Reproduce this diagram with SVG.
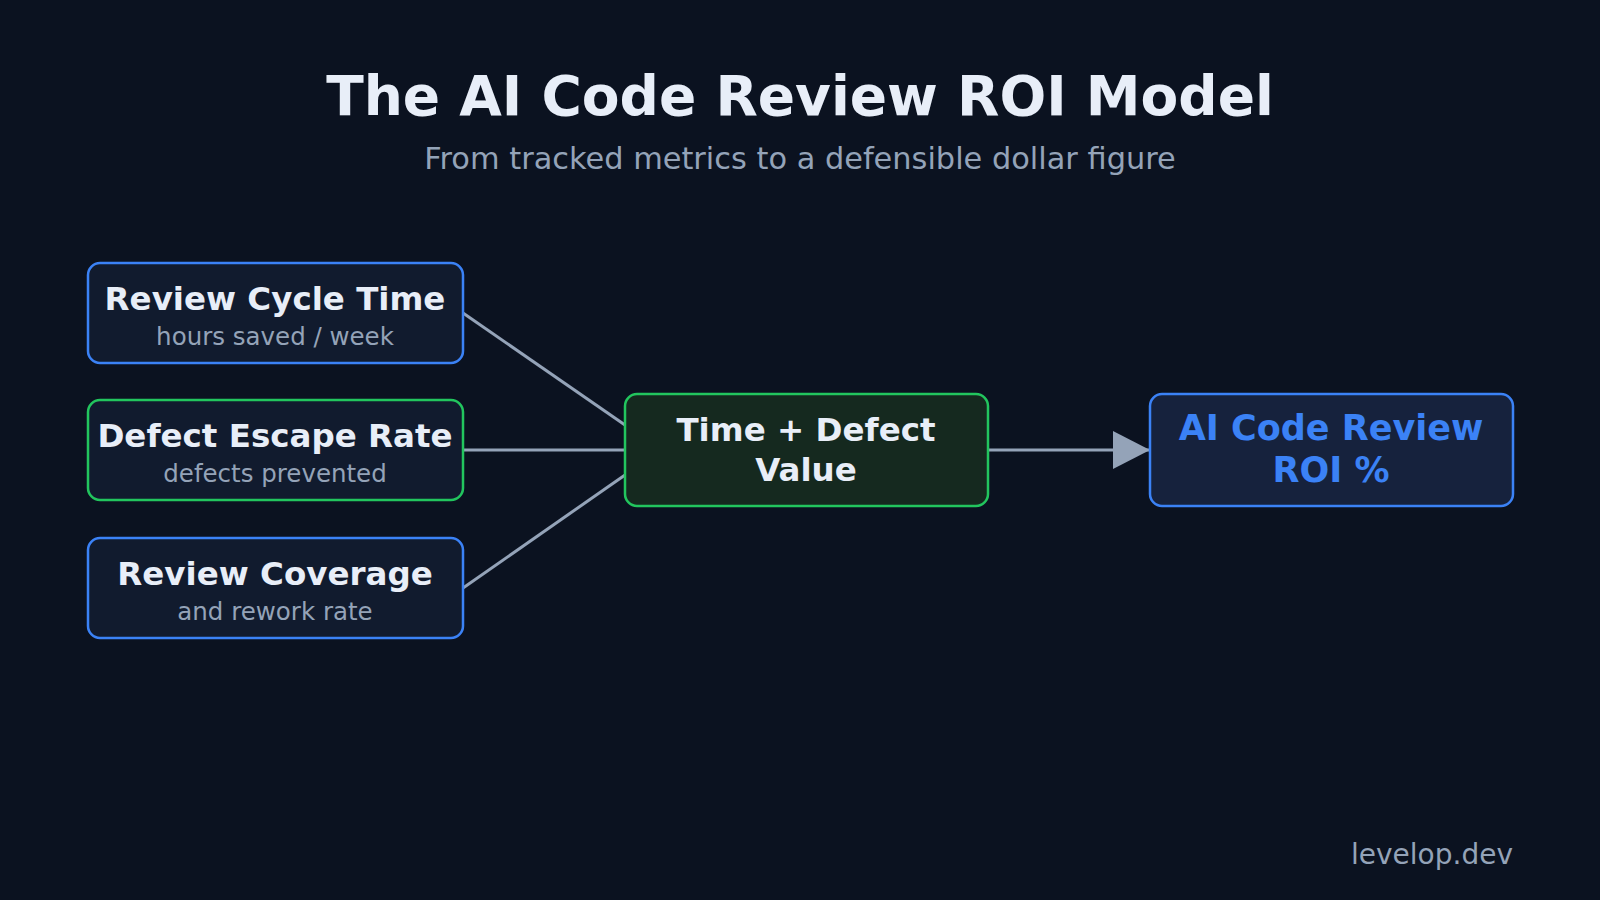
<svg xmlns="http://www.w3.org/2000/svg" width="1600" height="900" viewBox="0 0 1600 900">
<defs>
<style>
.t{font-family:"DejaVu Sans","Liberation Sans",sans-serif;text-anchor:middle}
.h{font-weight:bold;fill:#e8eef8}
.s{fill:#94a3b8}
.box{fill:#111b2e;stroke-width:2.5}
.blue{stroke:#3b82f6}
.green{stroke:#22c55e}
.ln{stroke:#94a3b8;stroke-width:3;fill:none}
</style>
<marker id="arr" markerUnits="userSpaceOnUse" markerWidth="38" markerHeight="38" refX="37" refY="19" orient="auto" viewBox="0 0 38 38">
<path d="M0,0 L37,19 L0,38 Z" fill="#94a3b8"/>
</marker>
</defs>
<rect width="1600" height="900" fill="#0b1220"/>
<text class="t h" x="800" y="115" font-size="55">The AI Code Review ROI Model</text>
<text class="t s" x="800" y="169" font-size="30.4">From tracked metrics to a defensible dollar figure</text>
<g id="connectors">
<line class="ln" x1="463" y1="313" x2="625" y2="425"/>
<line class="ln" x1="463" y1="450" x2="625" y2="450"/>
<line class="ln" x1="463" y1="588" x2="625" y2="475"/>
<line class="ln" x1="988" y1="450" x2="1150" y2="450" marker-end="url(#arr)"/>
</g>
<g id="n1">
<rect class="box blue" x="88" y="263" width="375" height="100" rx="12"/>
<text class="t h" x="275" y="310" font-size="32.5">Review Cycle Time</text>
<text class="t s" x="275" y="345" font-size="24.5">hours saved / week</text>
</g>
<g id="n2">
<rect class="box green" x="88" y="400" width="375" height="100" rx="12"/>
<text class="t h" x="275" y="447" font-size="32.5">Defect Escape Rate</text>
<text class="t s" x="275" y="482" font-size="24.5">defects prevented</text>
</g>
<g id="n3">
<rect class="box blue" x="88" y="538" width="375" height="100" rx="12"/>
<text class="t h" x="275" y="585" font-size="32.5">Review Coverage</text>
<text class="t s" x="275" y="620" font-size="24.5">and rework rate</text>
</g>
<g id="n4">
<rect x="625" y="394" width="363" height="112" rx="12" fill="#15291f" stroke="#22c55e" stroke-width="2.5"/>
<text class="t h" x="806" y="441" font-size="32.5">Time + Defect</text>
<text class="t h" x="806" y="481" font-size="32.5">Value</text>
</g>
<g id="n5">
<rect x="1150" y="394" width="363" height="112" rx="12" fill="#16223d" stroke="#3b82f6" stroke-width="2.5"/>
<text class="t" x="1331" y="440" font-size="35" font-weight="bold" fill="#3b82f6">AI Code Review</text>
<text class="t" x="1331" y="482" font-size="35" font-weight="bold" fill="#3b82f6">ROI %</text>
</g>
<text x="1513" y="864" font-family="DejaVu Sans, sans-serif" font-size="28" fill="#94a3b8" text-anchor="end">levelop.dev</text>
</svg>
